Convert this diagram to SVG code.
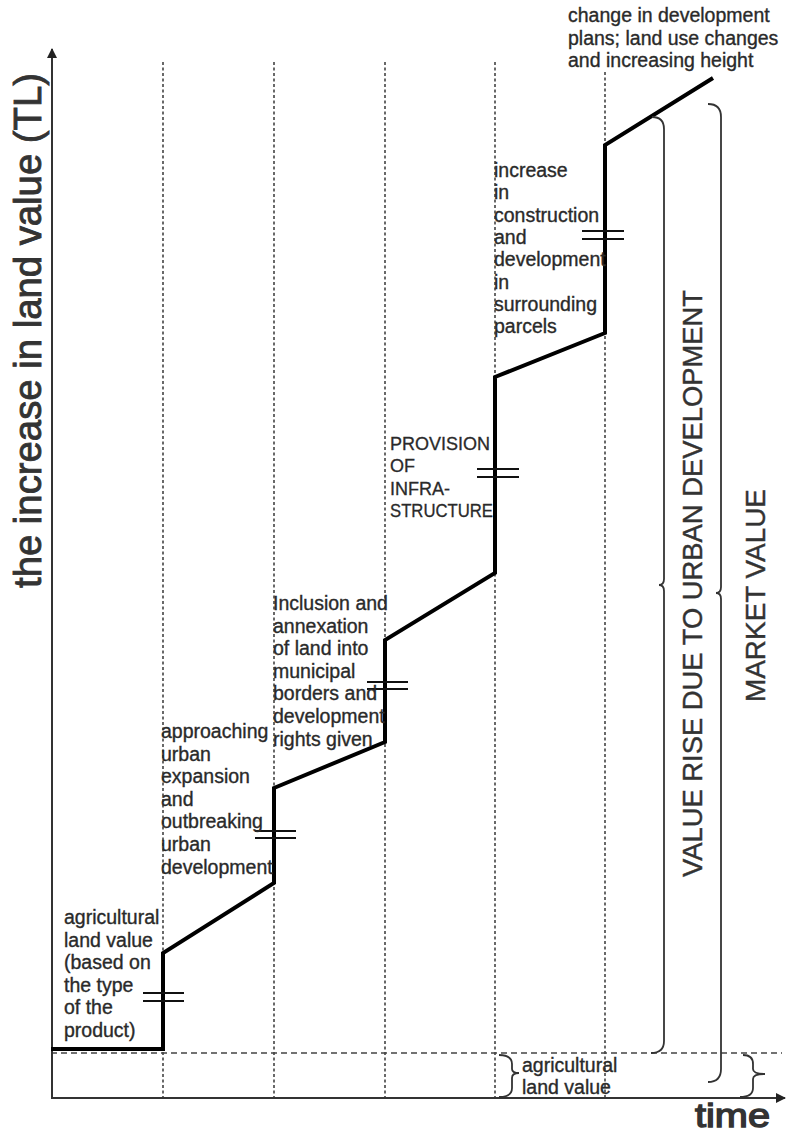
<svg xmlns="http://www.w3.org/2000/svg" width="786" height="1135" viewBox="0 0 786 1135">
<style>
.lbl{font-family:"Liberation Sans",Arial,sans-serif;font-size:19.5px;fill:#2a2a2a;stroke:#2a2a2a;stroke-width:0.35}
.caps{font-family:"Liberation Sans",Arial,sans-serif;font-size:18px;fill:#2a2a2a;stroke:#2a2a2a;stroke-width:0.3}
.big{font-family:"Liberation Sans",Arial,sans-serif;fill:#333;stroke:#333}
.axis{stroke:#333;stroke-width:2;fill:none}
.dot{stroke:#444;stroke-width:1.6;stroke-dasharray:3 2.5;fill:none}
.dash{stroke:#444;stroke-width:1.6;stroke-dasharray:6 4;fill:none}
.step{stroke:#000;stroke-width:4;fill:none;stroke-linejoin:miter}
.tick{stroke:#111;stroke-width:2;fill:none}
.brace{stroke:#333;stroke-width:1.8;fill:none}
</style>
<defs>
<marker id="arr" markerWidth="10" markerHeight="10" refX="9" refY="5" orient="auto" markerUnits="userSpaceOnUse">
<path d="M0,0 L10,5 L0,10 Z" fill="#222"/>
</marker>
</defs>
<rect width="786" height="1135" fill="#fff"/>

<g id="grid">
<line class="dot" x1="163" y1="62" x2="163" y2="1098"/>
<line class="dot" x1="274" y1="62" x2="274" y2="1098"/>
<line class="dot" x1="385" y1="62" x2="385" y2="1098"/>
<line class="dot" x1="495" y1="62" x2="495" y2="1098"/>
<line class="dot" x1="605" y1="72" x2="605" y2="1098"/>
<line class="dash" x1="51" y1="1053" x2="782" y2="1053"/>
</g>

<g id="axes">
<line class="axis" x1="52" y1="1099" x2="52" y2="49" marker-end="url(#arr)"/>
<line class="axis" x1="51" y1="1098" x2="785" y2="1098" marker-end="url(#arr)"/>
<text class="big" transform="translate(41,588) rotate(-90)" font-size="38.5" stroke-width="0.9" textLength="515" lengthAdjust="spacingAndGlyphs">the increase in land value (TL)</text>
<text class="big" x="695" y="1127" font-size="34" stroke-width="1.4" textLength="75" lengthAdjust="spacingAndGlyphs">time</text>
</g>

<g id="connectors">
<polyline class="step" points="51,1049 163,1049 163,953 274,883 274,788 385,742 385,640 495,573 495,377 605,333 605,145 713,78"/>
<g id="ticks">
<path class="tick" d="M143,993 H184 M143,1001 H184"/>
<path class="tick" d="M255,831 H296 M255,838 H296"/>
<path class="tick" d="M367,682 H408 M367,689 H408"/>
<path class="tick" d="M477,469 H519 M477,477 H519"/>
<path class="tick" d="M582,231 H624 M582,239 H624"/>
</g>
</g>

<g id="braces">
<path class="brace" d="M652,117 Q664,117 664,129 L664,579 Q664,585 659,585 Q664,585 664,591 L664,1041 Q664,1053 651,1053"/>
<path class="brace" d="M708,104 Q721,104 721,117 L721,587 Q721,593 716,593 Q721,593 721,599 L721,1069 Q721,1082 708,1082"/>
<path class="brace" d="M743,1055 Q753,1055 753,1064 L753,1069 Q753,1074 765,1074 Q753,1074 753,1079 L753,1088 Q753,1097 740,1097"/>
<path class="brace" d="M499,1055 Q512,1055 512,1064 L512,1069 Q512,1073 519,1073 Q512,1073 512,1078 L512,1088 Q512,1097 499,1097"/>
</g>

<g id="node-agricultural">
<text class="lbl" x="64" y="924"><tspan x="64">agricultural</tspan><tspan x="64" dy="22.6">land value</tspan><tspan x="64" dy="22.6">(based on</tspan><tspan x="64" dy="22.6">the type</tspan><tspan x="64" dy="22.6">of the</tspan><tspan x="64" dy="22.6">product)</tspan></text>
</g>
<g id="node-approaching">
<text class="lbl" x="161" y="738"><tspan x="161">approaching</tspan><tspan x="161" dy="22.6">urban</tspan><tspan x="161" dy="22.6">expansion</tspan><tspan x="161" dy="22.6">and</tspan><tspan x="161" dy="22.6">outbreaking</tspan><tspan x="161" dy="22.6">urban</tspan><tspan x="161" dy="22.6">development</tspan></text>
</g>
<g id="node-inclusion">
<text class="lbl" x="273" y="610"><tspan x="273">Inclusion and</tspan><tspan x="273" dy="22.6">annexation</tspan><tspan x="273" dy="22.6">of land into</tspan><tspan x="273" dy="22.6">municipal</tspan><tspan x="273" dy="22.6">borders and</tspan><tspan x="273" dy="22.6">development</tspan><tspan x="273" dy="22.6">rights given</tspan></text>
</g>
<g id="node-provision">
<text class="caps" x="390" y="450"><tspan x="390">PROVISION</tspan><tspan x="390" dy="22.4">OF</tspan><tspan x="390" dy="22.4">INFRA-</tspan></text>
<text class="caps" x="390" y="517.2" textLength="103" lengthAdjust="spacingAndGlyphs">STRUCTURE</text>
</g>
<g id="node-increase">
<text class="lbl" x="494" y="177"><tspan x="494">increase</tspan><tspan x="494" dy="22.3">in</tspan><tspan x="494" dy="22.3">construction</tspan><tspan x="494" dy="22.3">and</tspan><tspan x="494" dy="22.3">development</tspan><tspan x="494" dy="22.3">in</tspan><tspan x="494" dy="22.3">surrounding</tspan><tspan x="494" dy="22.3">parcels</tspan></text>
</g>
<g id="node-change">
<text class="lbl" x="568" y="22"><tspan x="568">change in development</tspan><tspan x="568" dy="22.5">plans; land use changes</tspan><tspan x="568" dy="22.5">and increasing height</tspan></text>
</g>
<g id="node-agri-value">
<text class="lbl" x="522" y="1072"><tspan x="522">agricultural</tspan><tspan x="522" dy="21.5">land value</tspan></text>
</g>
<g id="node-value-rise">
<text class="big" transform="translate(702,877) rotate(-90)" font-size="27" stroke-width="0.4" textLength="587" lengthAdjust="spacingAndGlyphs">VALUE RISE DUE TO URBAN DEVELOPMENT</text>
</g>
<g id="node-market-value">
<text class="big" transform="translate(765,702) rotate(-90)" font-size="27.5" stroke-width="0.4" textLength="213" lengthAdjust="spacingAndGlyphs">MARKET VALUE</text>
</g>
</svg>
